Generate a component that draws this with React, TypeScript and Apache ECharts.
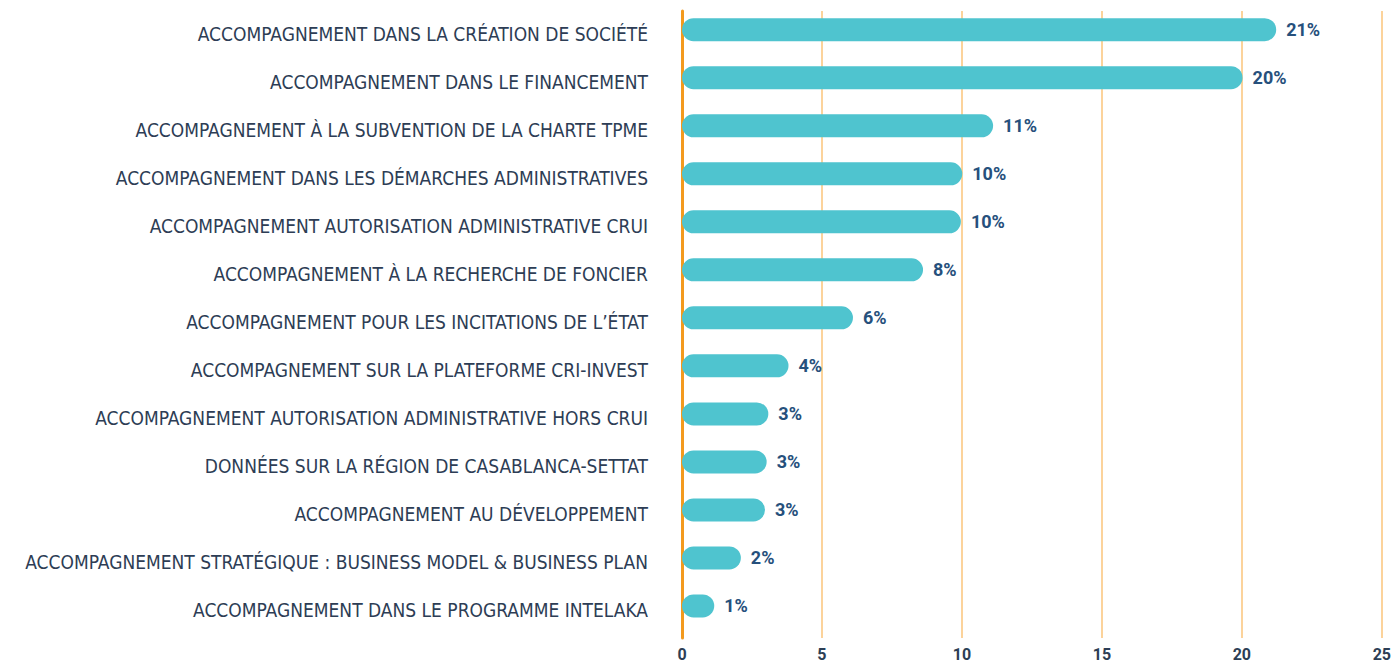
import React, { useEffect, useRef } from "react";
import * as echarts from "echarts";

const categories = [
  "ACCOMPAGNEMENT DANS LA CRÉATION DE SOCIÉTÉ",
  "ACCOMPAGNEMENT DANS LE FINANCEMENT",
  "ACCOMPAGNEMENT À LA SUBVENTION DE LA CHARTE TPME",
  "ACCOMPAGNEMENT DANS LES DÉMARCHES ADMINISTRATIVES",
  "ACCOMPAGNEMENT AUTORISATION ADMINISTRATIVE CRUI",
  "ACCOMPAGNEMENT À LA RECHERCHE DE FONCIER",
  "ACCOMPAGNEMENT POUR LES INCITATIONS DE L’ÉTAT",
  "ACCOMPAGNEMENT SUR LA PLATEFORME CRI-INVEST",
  "ACCOMPAGNEMENT AUTORISATION ADMINISTRATIVE HORS CRUI",
  "DONNÉES SUR LA RÉGION DE CASABLANCA-SETTAT",
  "ACCOMPAGNEMENT AU DÉVELOPPEMENT",
  "ACCOMPAGNEMENT STRATÉGIQUE : BUSINESS MODEL & BUSINESS PLAN",
  "ACCOMPAGNEMENT DANS LE PROGRAMME INTELAKA",
];

const values = [21.2, 20.0, 11.1, 10.0, 9.95, 8.6, 6.1, 3.8, 3.08, 3.02, 2.96, 2.1, 1.15];

const valueLabels = ["21%", "20%", "11%", "10%", "10%", "8%", "6%", "4%", "3%", "3%", "3%", "2%", "1%"];

const xTicks = { min: 0, max: 25, interval: 5 };

export default function App() {
  const ref = useRef<HTMLDivElement>(null);
  useEffect(() => {
    if (!ref.current) return;
    const chart = echarts.init(ref.current, null, { renderer: "svg" });
    const condensed = "'Liberation Sans Narrow', 'DejaVu Sans Condensed', 'Roboto', sans-serif";
    chart.setOption({
      animation: false,
      backgroundColor: "#ffffff",
      grid: [
        { left: 682, right: 11.3, top: 5.7, bottom: 32 },
        { left: 682, right: 11.3, top: 11, bottom: 21 },
      ],
      xAxis: [
        {
          gridIndex: 0,
          type: "value",
          ...xTicks,
          show: false,
        },
        {
          gridIndex: 1,
          type: "value",
          ...xTicks,
          axisLine: { show: false },
          axisTick: { show: false },
          splitLine: { show: true, lineStyle: { color: "#fbc47a", width: 1.5 } },
          axisLabel: {
            color: "#2c3e55",
            fontFamily: "Roboto, sans-serif",
            fontWeight: "bold",
            fontSize: 16,
            margin: 8,
          },
        },
      ],
      yAxis: [
        {
          gridIndex: 0,
          type: "category",
          inverse: true,
          data: categories,
          axisLine: { show: false },
          axisTick: { show: false },
          axisLabel: {
            margin: 34,
            formatter: (v: string) => "{a|" + v + "}",
            rich: {
              a: {
                color: "#2d3d55",
                fontFamily: condensed,
                fontSize: 19,
                lineHeight: 22,
                padding: [8, 0, 0, 0],
              },
            },
          },
        },
        {
          gridIndex: 1,
          type: "value",
          min: 0,
          max: 1,
          axisLine: { show: true, lineStyle: { color: "#f39a1e", width: 3 } },
          axisTick: { show: false },
          axisLabel: { show: false },
          splitLine: { show: false },
        },
      ],
      series: [
        {
          type: "bar",
          xAxisIndex: 0,
          yAxisIndex: 0,
          data: values,
          barWidth: 23,
          z: 5,
          itemStyle: { color: "#4fc4cf", borderRadius: 11.5 },
          label: {
            show: true,
            position: "right",
            distance: 10,
            color: "#26507c",
            fontFamily: "Roboto, sans-serif",
            fontWeight: "bold",
            fontSize: 18,
            formatter: (p: any) => valueLabels[p.dataIndex],
          },
        },
      ],
    });
    return () => chart.dispose();
  }, []);
  return (
    <div
      ref={ref}
      style={{ position: "absolute", left: 0, top: 0, width: 1394, height: 662 }}
    />
  );
}
